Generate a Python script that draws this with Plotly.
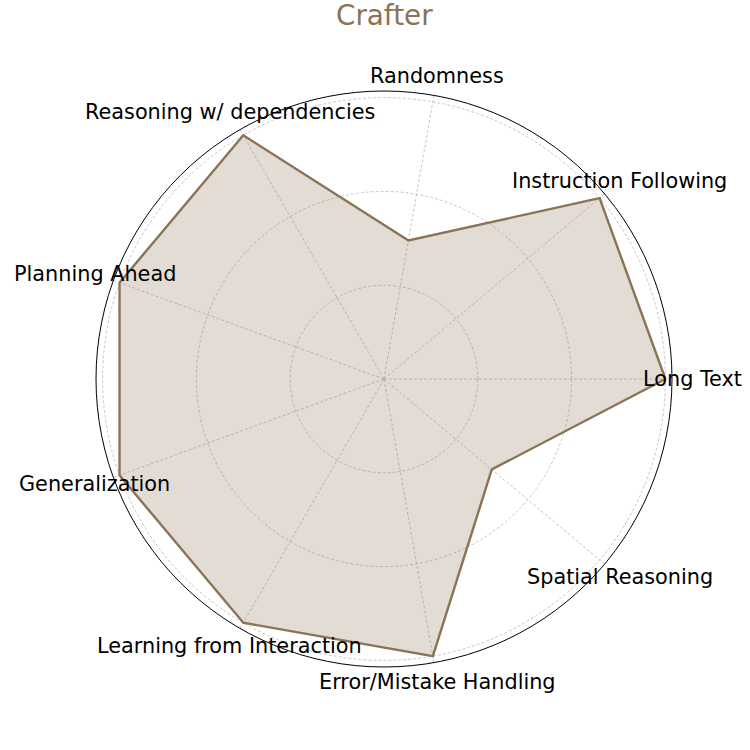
import math
import plotly.graph_objects as go

categories = ["Long Text", "Instruction Following", "Randomness",
              "Reasoning w/ dependencies", "Planning Ahead", "Generalization",
              "Learning from Interaction", "Error/Mistake Handling", "Spatial Reasoning"]
values = [60, 60, 30, 60, 60, 60, 60, 60, 30]
radial_ticks = [20, 40, 60]
radial_max = 61.4
title_text = "Crafter"

line_color = "#8B7355"
fill_color = "rgba(139,115,85,0.25)"
grid_color = "#c8c8c8"

fig = go.Figure()
fig.add_trace(go.Scatterpolar(
    r=values + [values[0]],
    theta=categories + [categories[0]],
    mode="lines",
    line=dict(color=line_color, width=2.4),
    fill="toself",
    fillcolor=fill_color,
    hoverinfo="skip",
    showlegend=False,
))

# category labels placed around the circle
label_r = 308 / 576  # fraction of plot width
annotations = []
n = len(categories)
for i, cat in enumerate(categories):
    ang = 2 * math.pi * i / n
    annotations.append(dict(
        text=cat, xref="paper", yref="paper",
        x=0.5 + label_r * math.cos(ang), y=0.5 + label_r * math.sin(ang),
        xanchor="center", yanchor="middle", showarrow=False,
        font=dict(family="DejaVu Sans", size=20.8, color="black"),
    ))
annotations.append(dict(
    text=title_text, xref="paper", yref="paper",
    x=0.5, y=1 + (91 - 15) / 576, xanchor="center", yanchor="middle",
    showarrow=False, font=dict(family="DejaVu Sans", size=27.8, color=line_color),
))

fig.update_layout(
    width=750, height=750,
    margin=dict(l=96, r=78, t=91, b=83),
    paper_bgcolor="white",
    font=dict(family="DejaVu Sans"),
    annotations=annotations,
    polar=dict(
        bgcolor="white",
        domain=dict(x=[0, 1], y=[0, 1]),
        angularaxis=dict(
            rotation=0, direction="counterclockwise",
            showticklabels=False, ticks="",
            showline=True, linecolor="black", linewidth=1,
            showgrid=True, gridcolor=grid_color, griddash="3px,2px", gridwidth=0.6,
        ),
        radialaxis=dict(
            range=[0, radial_max], tickvals=radial_ticks,
            showticklabels=False, ticks="", showline=False,
            showgrid=True, gridcolor=grid_color, griddash="3px,2px", gridwidth=0.6,
        ),
    ),
)

fig.write_html("out.html")
